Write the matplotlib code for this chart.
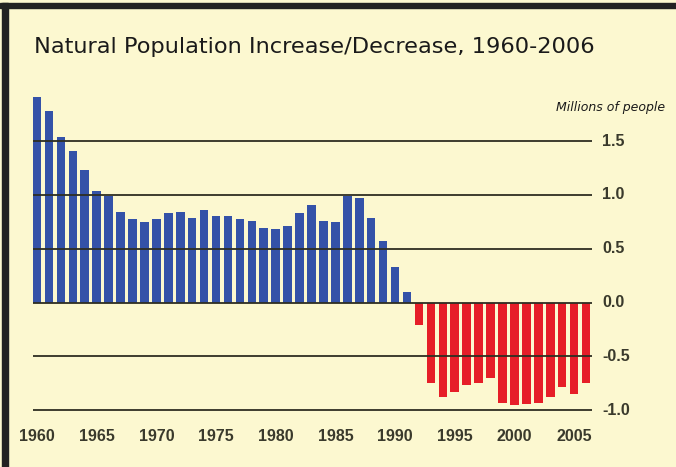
import numpy as np
import matplotlib
matplotlib.use("Agg")
import matplotlib.pyplot as plt
from matplotlib.patches import Rectangle

# natural increase (+) / decrease (-), millions of people
years = list(range(1960, 2007))
values = [1.91, 1.78, 1.54, 1.41, 1.23, 1.04, 0.99, 0.84, 0.78, 0.75,
          0.78, 0.83, 0.84, 0.79, 0.86, 0.80, 0.80, 0.78, 0.76, 0.69,
          0.68, 0.71, 0.83, 0.91, 0.76, 0.75, 0.99, 0.97, 0.79, 0.57,
          0.33, 0.10, -0.21, -0.75, -0.88, -0.83, -0.77, -0.75, -0.70, -0.93,
          -0.95, -0.94, -0.93, -0.88, -0.79, -0.85, -0.75]
yticks = [1.5, 1.0, 0.5, 0.0, -0.5, -1.0]
xticks = [1960, 1965, 1970, 1975, 1980, 1985, 1990, 1995, 2000, 2005]

BG = "#FCF8D0"
BLUE = "#3452A8"
RED = "#E61E28"
INK = "#2e2e22"
LBL = "#3a3a2c"

W, H = 676, 467
fig = plt.figure(figsize=(W / 100, H / 100), dpi=100, facecolor=BG)

# axes placed in pixel terms: x 33..592, y 89.6..412.2 (top-down)
x0, x1, y0, y1 = 33, 592, 89.6, 412.2
ax = fig.add_axes([x0 / W, 1 - y1 / H, (x1 - x0) / W, (y1 - y0) / H])
ax.set_facecolor(BG)
ax.set_xlim(1959.665, 2006.5)
ax.set_ylim(-1.02, 1.98)

vals = np.array(values)
colors = [BLUE if v >= 0 else RED for v in vals]
ax.bar(years, vals, width=0.72, color=colors, zorder=2)

for t in yticks:
    ax.axhline(t, color=INK, lw=1.3, zorder=3)

for s in ax.spines.values():
    s.set_visible(False)
ax.set_xticks([]); ax.set_yticks([])

lab = dict(fontsize=11.5, color=LBL, fontweight="bold", family="Liberation Sans")
# right-hand value labels
for t in yticks:
    ax.text(1.018, t, f"{t:.1f}", transform=ax.get_yaxis_transform(),
            ha="left", va="center", **lab)

# year labels below
for yr in xticks:
    ax.text(yr, -1.25, str(yr), ha="center", va="center", **lab)

fig.text(34 / W, 1 - 47 / H, "Natural Population Increase/Decrease, 1960-2006",
         ha="left", va="center", fontsize=16.2, color="#1a1a1a")
fig.text(665 / W, 1 - 107 / H, "Millions of people", ha="right", va="center",
         fontsize=9, style="italic", color="#1a1a1a")

# dark frame on top and left edges
fig.patches.append(Rectangle((0, 1 - 8 / H), 1, 5 / H, transform=fig.transFigure,
                             color="#222222", zorder=10))
fig.patches.append(Rectangle((2 / W, 0), 6 / W, 1 - 3 / H, transform=fig.transFigure,
                             color="#222222", zorder=10))

fig.savefig("out.png", dpi=100, facecolor=BG)
